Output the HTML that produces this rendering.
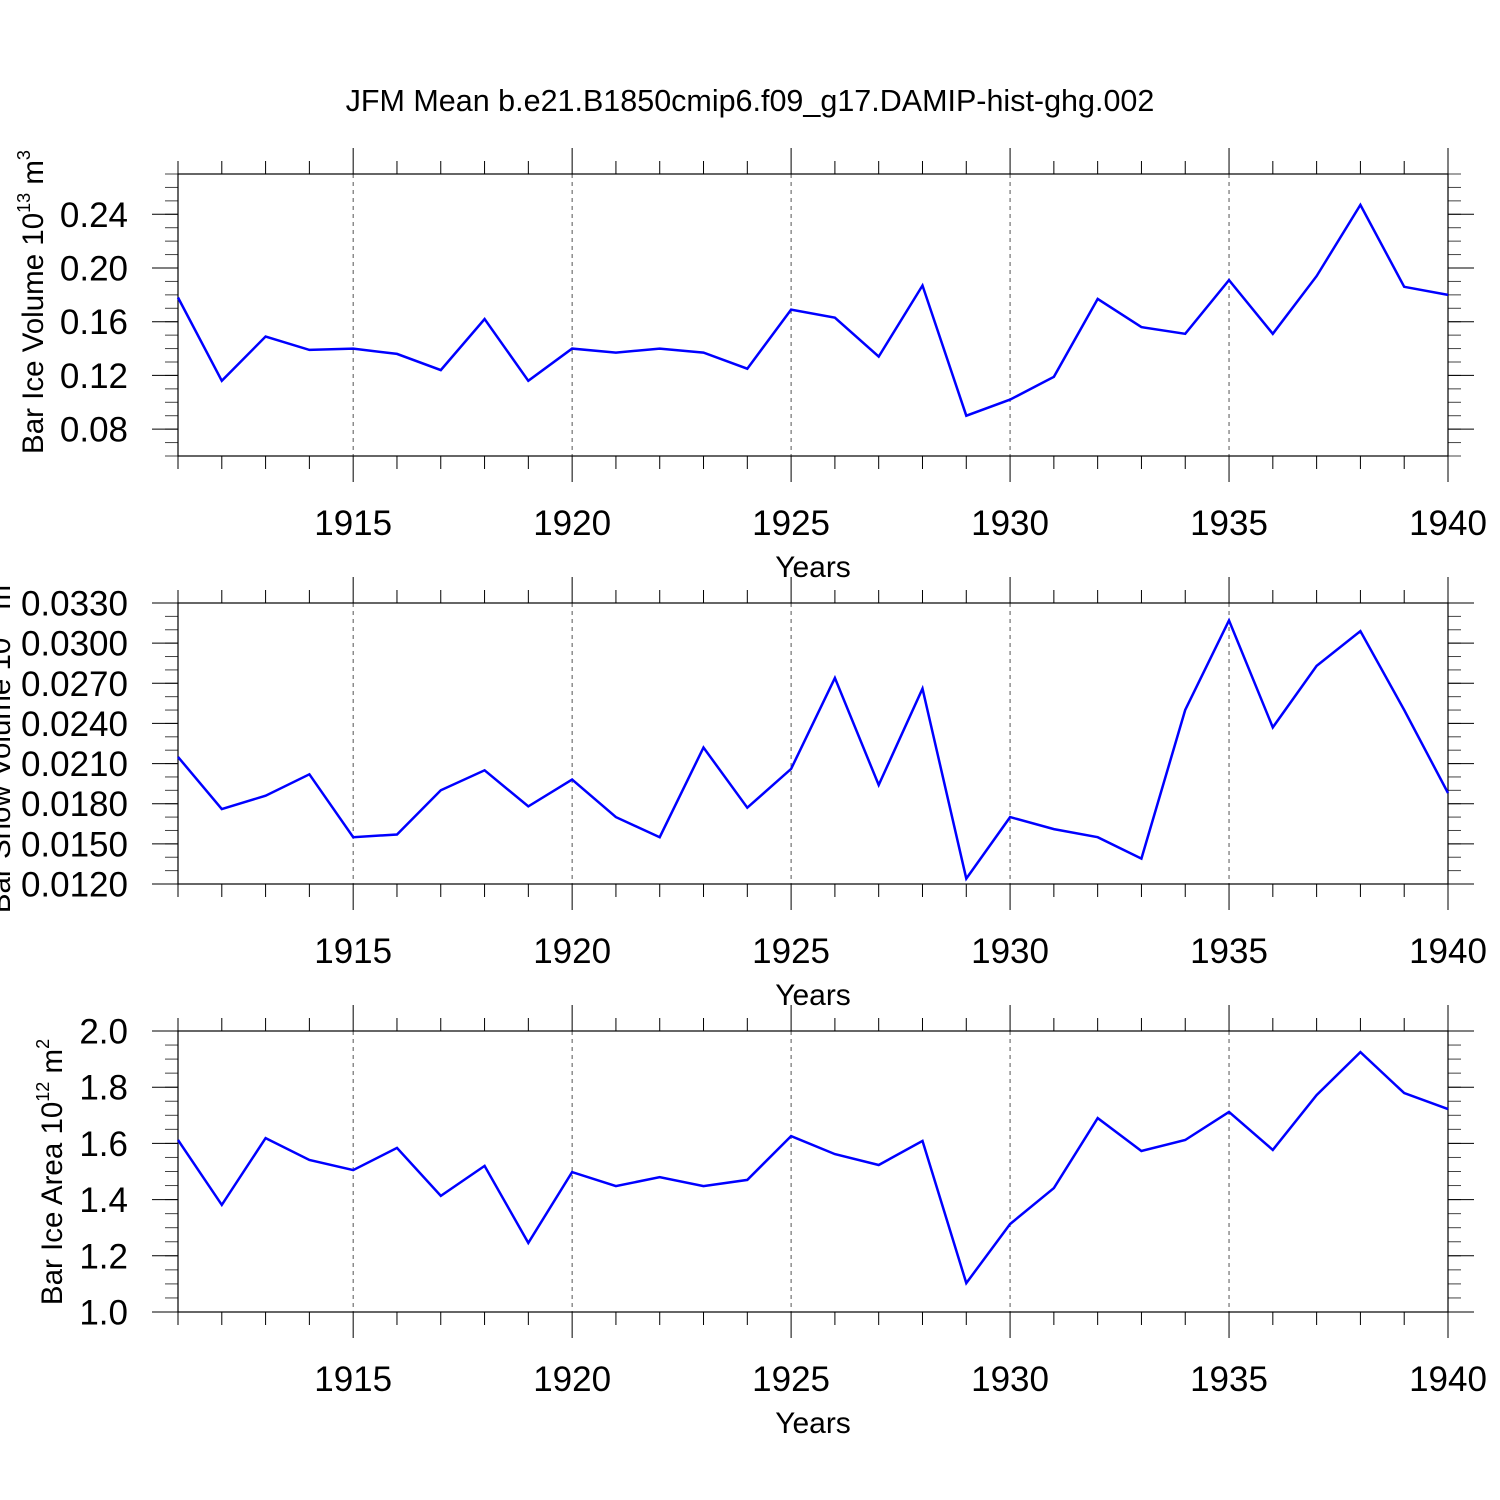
<!DOCTYPE html>
<html><head><meta charset="utf-8"><style>
html,body{margin:0;padding:0;background:#fff}
svg{display:block;font-family:"Liberation Sans",Arial,sans-serif}
</style></head><body>
<svg id="chart" width="1500" height="1500" viewBox="0 0 1500 1500">
<text x="750" y="111" text-anchor="middle" font-size="30.5">JFM Mean b.e21.B1850cmip6.f09_g17.DAMIP-hist-ghg.002</text>
</svg>
<script>
const years = [1911,1912,1913,1914,1915,1916,1917,1918,1919,1920,1921,1922,1923,1924,1925,1926,1927,1928,1929,1930,1931,1932,1933,1934,1935,1936,1937,1938,1939,1940];
const iceVolume = [0.178,0.116,0.149,0.139,0.140,0.136,0.124,0.162,0.116,0.140,0.137,0.140,0.137,0.125,0.169,0.163,0.134,0.187,0.090,0.102,0.119,0.177,0.156,0.151,0.191,0.151,0.194,0.247,0.186,0.180];
const snowVolume = [0.0215,0.0176,0.0186,0.0202,0.0155,0.0157,0.0190,0.0205,0.0178,0.0198,0.0170,0.0155,0.0222,0.0177,0.0206,0.0274,0.0194,0.0266,0.0124,0.0170,0.0161,0.0155,0.0139,0.0250,0.0317,0.0237,0.0283,0.0309,0.0250,0.0188];
const iceArea = [1.612,1.381,1.619,1.541,1.505,1.584,1.413,1.520,1.246,1.498,1.448,1.480,1.448,1.470,1.626,1.562,1.523,1.609,1.103,1.313,1.441,1.690,1.573,1.612,1.712,1.577,1.772,1.925,1.779,1.722];
const xTicks = [1915,1920,1925,1930,1935,1940];
const iceVolTicks = ["0.08","0.12","0.16","0.20","0.24"];
const snowTicks = ["0.0120","0.0150","0.0180","0.0210","0.0240","0.0270","0.0300","0.0330"];
const areaTicks = ["1.0","1.2","1.4","1.6","1.8","2.0"];

const svg = document.getElementById('chart');
const NS = 'http://www.w3.org/2000/svg';
function mk(tag, attrs, parent){const e=document.createElementNS(NS,tag);for(const k in attrs)e.setAttribute(k,attrs[k]);(parent||svg).appendChild(e);return e;}
const X0=178, X1=1448, xmin=1911, xmax=1940;
const xs = v => X0 + (v-xmin)/(xmax-xmin)*(X1-X0);

const panels = [
 {name:'ice-volume', top:174, bot:456, ymin:0.06, ymax:0.27, minor:0.01, data:iceVolume, ticks:iceVolTicks, label:'Bar Ice Volume 10', sup:'13', unit:' m', usup:'3', lx:33, cy:302},
 {name:'snow-volume', top:603, bot:884, ymin:0.012, ymax:0.033, minor:0.001, data:snowVolume, ticks:snowTicks, label:'Bar Snow Volume 10', sup:'13', unit:' m', usup:'3', lx:0, cy:744},
 {name:'ice-area', top:1031, bot:1312, ymin:1.0, ymax:2.0, minor:0.05, data:iceArea, ticks:areaTicks, label:'Bar Ice Area 10', sup:'12', unit:' m', usup:'2', lx:52, cy:1172}
];

panels.forEach(p=>{
  const g = mk('g',{});
  
  
  const ys = v => p.bot - (v-p.ymin)/(p.ymax-p.ymin)*(p.bot-p.top);
  xTicks.forEach(t=>{ if(t<xmax){ const l=mk('line',{x1:xs(t),x2:xs(t),y1:p.top,y2:p.bot,stroke:'#555','stroke-width':1,'stroke-dasharray':'4,4'},g);
      }});
  years.forEach(t=>{
    const major = xTicks.includes(t);
    const len = major?26:13;
    mk('line',{x1:xs(t),x2:xs(t),y1:p.top-len,y2:p.top,stroke:'#000','stroke-width':1},g);
    mk('line',{x1:xs(t),x2:xs(t),y1:p.bot,y2:p.bot+len,stroke:'#000','stroke-width':1},g);
  });
  xTicks.forEach(t=>{
    const tx = mk('text',{x:xs(t),y:p.bot+79,'text-anchor':'middle','font-size':35},g);
    tx.textContent=t;
     
  });
  const xt = mk('text',{x:813,y:p.bot+121,'text-anchor':'middle','font-size':30},g);
  xt.textContent='Years';
   
  const n = Math.round((p.ymax-p.ymin)/p.minor);
  for(let i=0;i<=n;i++){
    const v=p.ymin+i*p.minor, y=ys(v);
    mk('line',{x1:X0-13,x2:X0,y1:y,y2:y,stroke:'#444','stroke-width':1},g);
    mk('line',{x1:X1,x2:X1+13,y1:y,y2:y,stroke:'#444','stroke-width':1},g);
  }
  p.ticks.forEach(s=>{
    const y=ys(parseFloat(s));
    mk('line',{x1:X0-26,x2:X0,y1:y,y2:y,stroke:'#000','stroke-width':1},g);
    mk('line',{x1:X1,x2:X1+26,y1:y,y2:y,stroke:'#000','stroke-width':1},g);
    const tx=mk('text',{x:128,y:y+12.5,'text-anchor':'end','font-size':35},g);
    tx.textContent=s;
     
  });
  mk('rect',{x:X0,y:p.top,width:X1-X0,height:p.bot-p.top,fill:'none',stroke:'#000','stroke-width':1.2},g);
  const cy=p.cy;
  const yt=mk('text',{x:p.lx,y:cy,'text-anchor':'middle','font-size':29.5,transform:`rotate(-90 ${p.lx} ${cy})`,dy:10},g);
   
  const a=mk('tspan',{},yt); a.textContent=p.label;
  const b=mk('tspan',{dy:-13,'font-size':18},yt); b.textContent=p.sup;
  const c=mk('tspan',{dy:13},yt); c.textContent=p.unit;
  const d=mk('tspan',{dy:-13,'font-size':18},yt); d.textContent=p.usup;
  const pts = p.data.map((v,i)=>xs(years[i]).toFixed(1)+','+ys(v).toFixed(1)).join(' ');
  const pl=mk('polyline',{points:pts,fill:'none',stroke:'#0000ff','stroke-width':2.5,'stroke-linejoin':'miter'},g);
  
  
});
</script>
</body></html>
